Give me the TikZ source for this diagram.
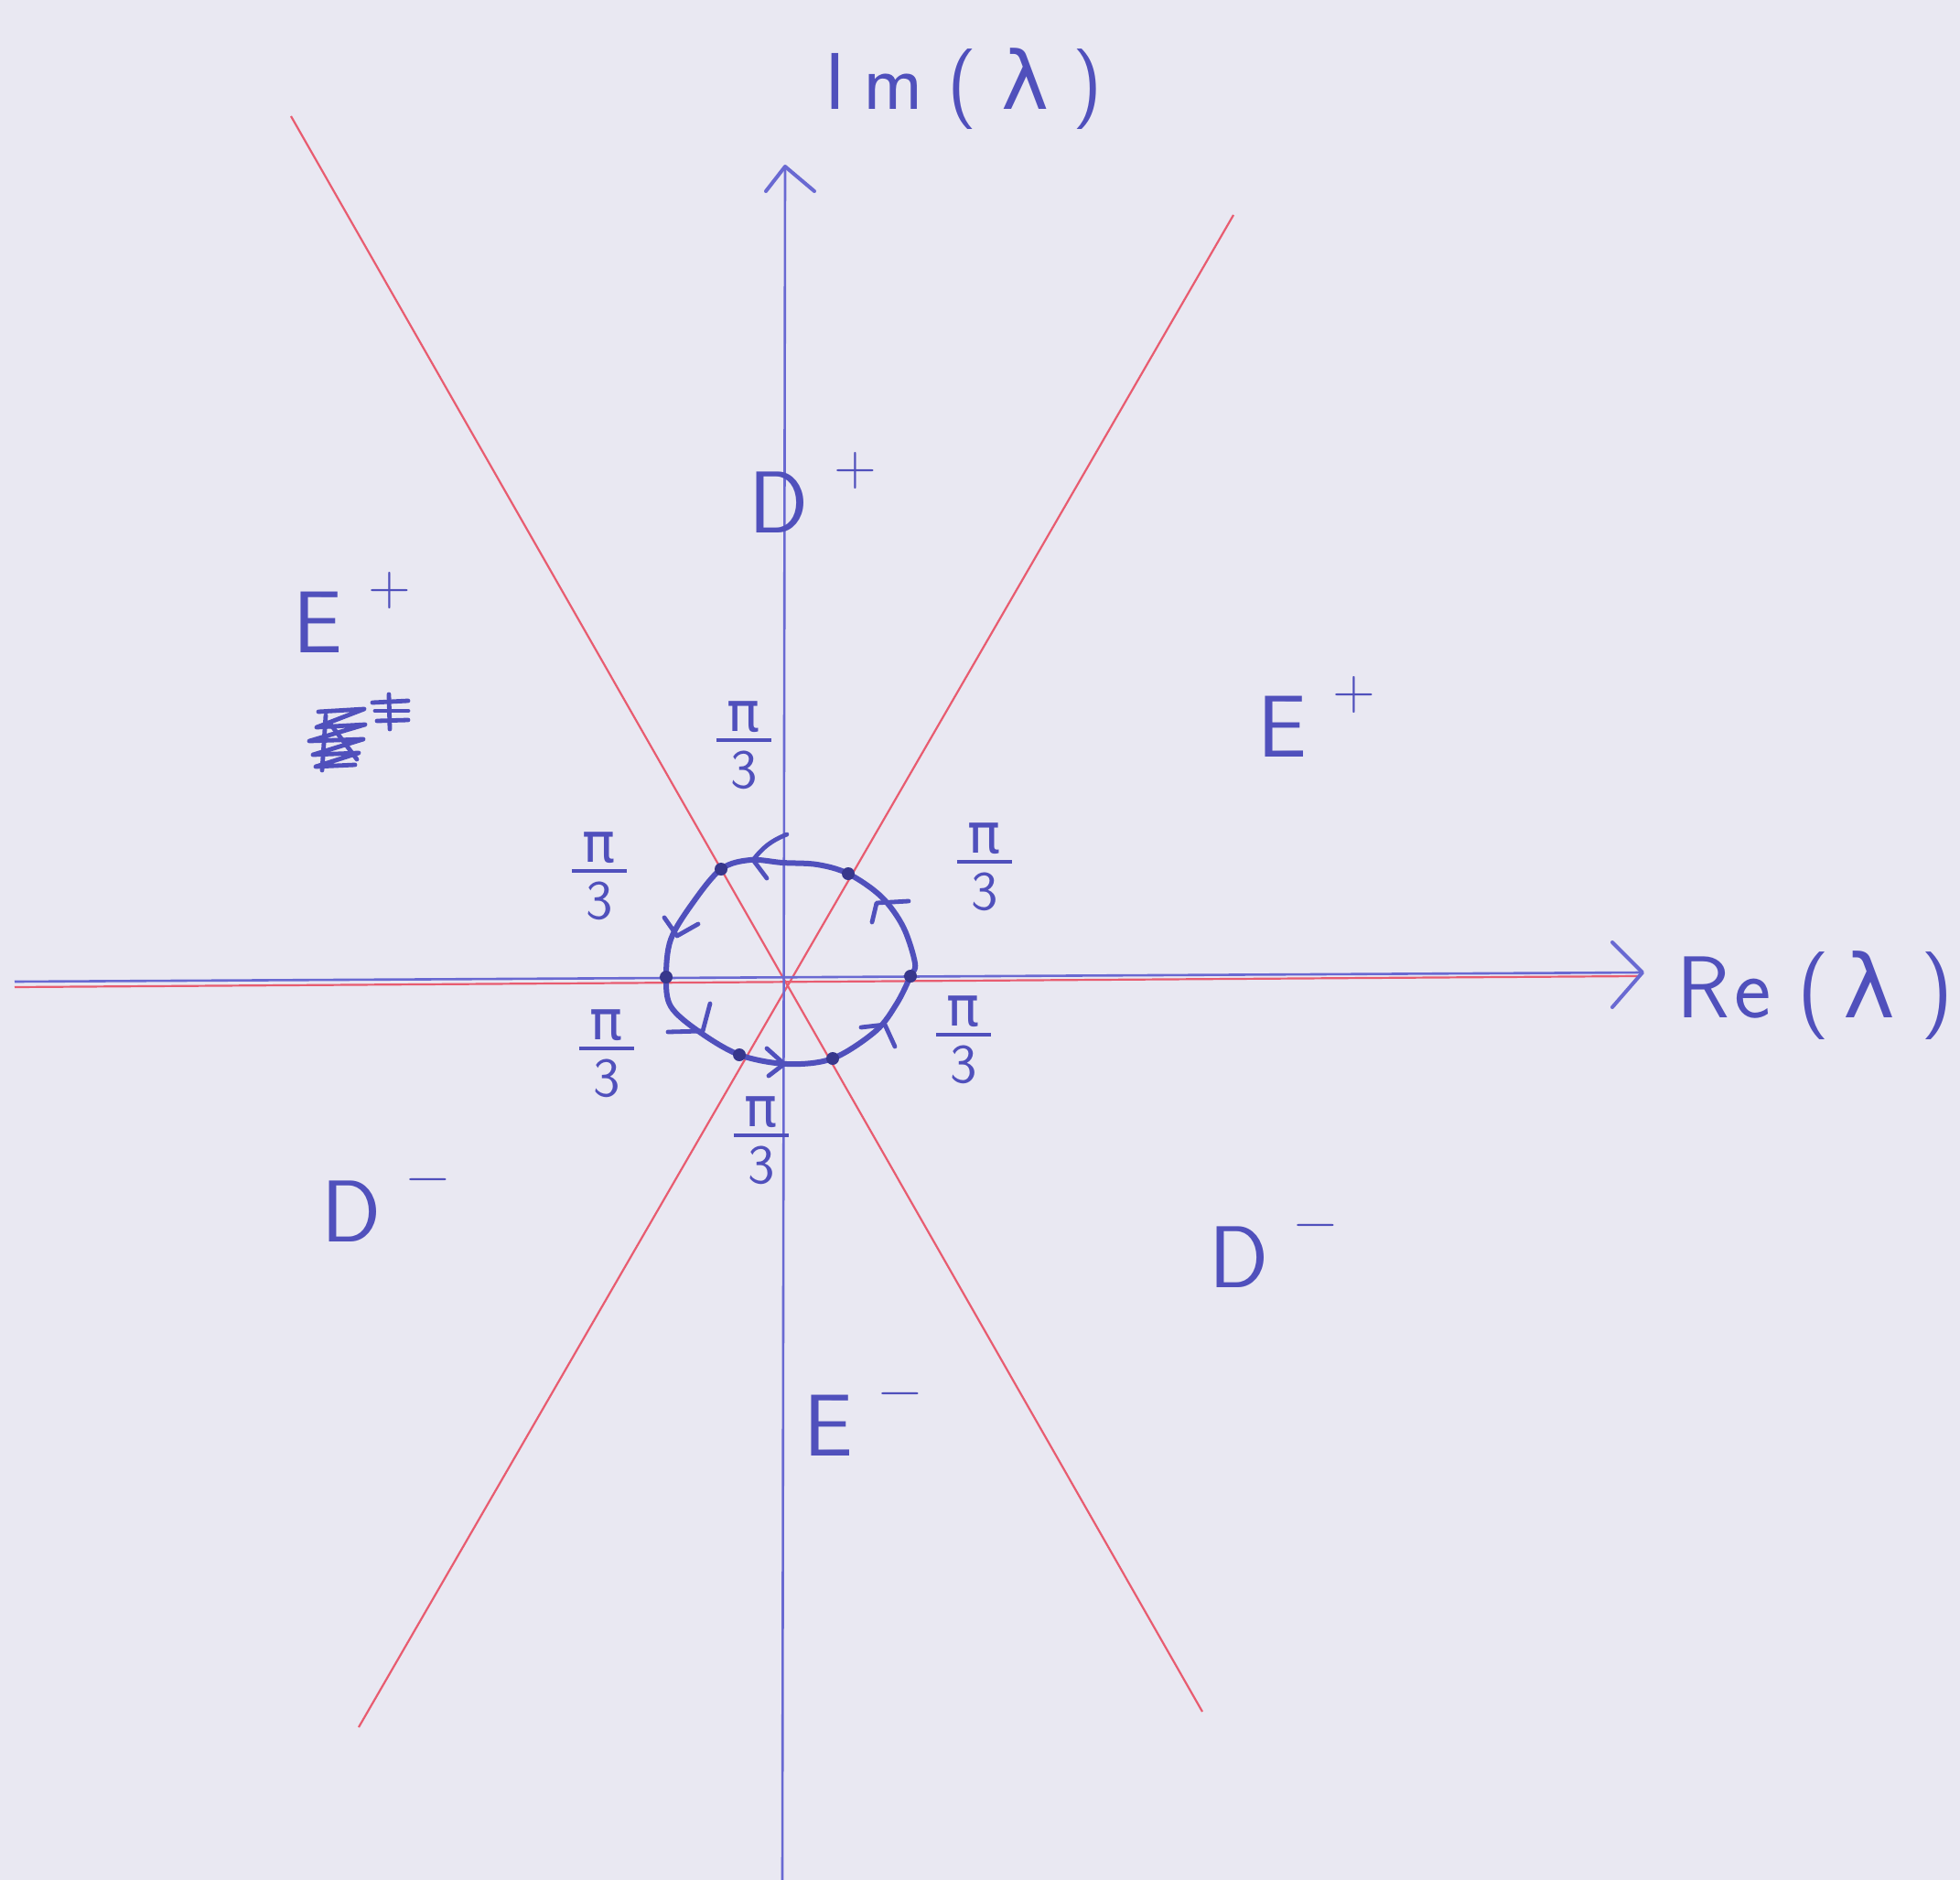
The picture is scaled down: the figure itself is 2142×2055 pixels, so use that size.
\documentclass[tikz,border=0pt]{standalone}
\usepackage{fontspec}
\newfontfamily\grk{DejaVu Sans}
\definecolor{paper}{RGB}{233,232,242}
\definecolor{ink}{RGB}{80,80,188}
\definecolor{inkdark}{RGB}{55,55,140}
\definecolor{axisblue}{RGB}{105,105,210}
\definecolor{redline}{RGB}{232,92,112}
\tikzset{
  pen/.style={draw=ink, line width=1.5pt, line cap=round, line join=round},
  axisline/.style={draw=axisblue, line width=0.65pt},
  rayline/.style={draw=redline, line width=0.55pt},
  lab/.style={text=ink, inner sep=0pt, font=\sffamily},
  dotmark/.style={fill=inkdark, draw=none},
}
\newcommand\reglab[2]{\fontsize{24}{28}\selectfont #1\hspace{7pt}\raisebox{13pt}{\fontsize{16}{18}\selectfont #2}}
\newcommand\pithird{\fontsize{15}{17}\selectfont\vbox{\halign{\hfil##\hfil\cr
  \kern3pt{\grk π}\kern3pt\cr\noalign{\kern1.5pt\hrule height 1.1pt\kern2.5pt}
  3\cr}}}
\begin{document}
\begin{tikzpicture}[x=0.25pt,y=-0.25pt]
\fill[paper] (0,0) rectangle (2142,2055);
\useasboundingbox (0,0) rectangle (2142,2055);

% coordinates
\coordinate (O) at (855,1068);
\coordinate (yb) at (855,2055);
\coordinate (ytip) at (858,182);
\coordinate (yl) at (837,209);
\coordinate (yr) at (890,209);
\coordinate (xl) at (16,1073);
\coordinate (xtip) at (1795,1063);
\coordinate (xu) at (1762,1030);
\coordinate (xd) at (1762,1101);
\coordinate (rh1) at (16,1079);
\coordinate (rh2) at (1790,1067);
\coordinate (ra1) at (318,127);
\coordinate (ra2) at (1314,1871);
\coordinate (rb1) at (1348,235);
\coordinate (rb2) at (392,1888);

% red rays
\draw[rayline] (ra1) -- (ra2);
\draw[rayline] (rb1) -- (rb2);
\draw[rayline] (rh1) -- (rh2);

% axes
\draw[axisline] (yb) -- (ytip);
\draw[axisline, line width=1pt, line cap=round, line join=round] (yl) -- (ytip) -- (yr);
\draw[axisline] (xl) -- (xtip);
\draw[axisline, line width=1pt, line cap=round, line join=round] (xu) -- (xtip) -- (xd);

% contour
\draw[pen] plot[smooth cycle, tension=0.55] coordinates {
  (728,1068) (733,1027) (757,987) (788,950) (820,940) (855,943) (893,945)
  (927,955) (963,980) (987,1013) (1000,1053) (995,1067) (980,1097)
  (957,1127) (910,1157) (860,1163) (808,1153) (763,1127) (733,1100)};

% arrow ticks on contour
\coordinate (a1t) at (823,940); \coordinate (a1a) at (860,912); \coordinate (a1b) at (838,960);
\coordinate (a2t) at (740,1023); \coordinate (a2a) at (726,1003); \coordinate (a2b) at (763,1010);
\coordinate (a3t) at (768,1127); \coordinate (a3a) at (776,1097); \coordinate (a3b) at (730,1128);
\coordinate (a4t) at (857,1163); \coordinate (a4a) at (838,1146); \coordinate (a4b) at (840,1176);
\coordinate (a5t) at (967,1120); \coordinate (a5a) at (941,1123); \coordinate (a5b) at (978,1144);
\coordinate (a6t) at (958,987); \coordinate (a6a) at (993,985); \coordinate (a6b) at (953,1008);
\draw[pen, line width=1.2pt] (a1a) to[bend right=15] (a1t) -- (a1b);
\draw[pen, line width=1.2pt] (a2a) -- (a2t) -- (a2b);
\draw[pen, line width=1.2pt] (a3a) -- (a3t) -- (a3b);
\draw[pen, line width=1.2pt] (a4a) -- (a4t) -- (a4b);
\draw[pen, line width=1.2pt] (a5a) -- (a5t) -- (a5b);
\draw[pen, line width=1.2pt] (a6a) -- (a6t) -- (a6b);

% dots
\foreach \p in {(728,1068),(995,1067),(788,950),(927,955),(808,1153),(910,1157)}
  \fill[dotmark] \p circle[radius=7];

% axis labels
\node[lab, font=\sffamily\fontsize{22}{26}\selectfont] (imlab) at (1053,97)
  {I\hspace{0.22em}m\hspace{0.3em}(\hspace{0.3em}{\grk λ}\hspace{0.3em})};
\node[lab, font=\sffamily\fontsize{24}{28}\selectfont] (relab) at (1984,1088)
  {R\hspace{0.05em}e\hspace{0.3em}(\hspace{0.15em}{\grk λ}\hspace{0.3em})};

% region labels
\node[lab, anchor=base west] (Dp) at (818,582) {\reglab{D}{+}};
\node[lab, anchor=base west] (Epl) at (320,713) {\reglab{E}{+}};
\node[lab, anchor=base west] (Epr) at (1374,827) {\reglab{E}{+}};
\node[lab, anchor=base west] (Dml) at (351,1357) {\reglab{D}{−}};
\node[lab, anchor=base west] (Dmr) at (1321,1407) {\reglab{D}{−}};
\node[lab, anchor=base west] (Em) at (878,1591) {\reglab{E}{−}};

% angle labels
\node[lab] (p1) at (813,815) {\pithird};
\node[lab] (p2) at (655,958) {\pithird};
\node[lab] (p3) at (1076,948) {\pithird};
\node[lab] (p4) at (663,1152) {\pithird};
\node[lab] (p5) at (1053,1137) {\pithird};
\node[lab] (p6) at (832,1247) {\pithird};

% scribbled-out text
\draw[pen, line width=1.2pt] (348,778) -- (398,775) -- (346,795) -- (399,792) -- (338,810)
  -- (397,808) -- (342,825) -- (392,823) -- (345,838) -- (388,836);
\draw[pen, line width=1.2pt] (356,782) -- (352,842);
\draw[pen, line width=1.2pt] (360,790) -- (390,830);
\draw[pen, line width=1.2pt] (407,768) -- (446,766);
\draw[pen, line width=1.2pt] (410,777) -- (446,777);
\draw[pen, line width=1.2pt] (412,788) -- (446,787);
\draw[pen, line width=1.2pt] (425,759) -- (426,797);
\end{tikzpicture}
\end{document}
